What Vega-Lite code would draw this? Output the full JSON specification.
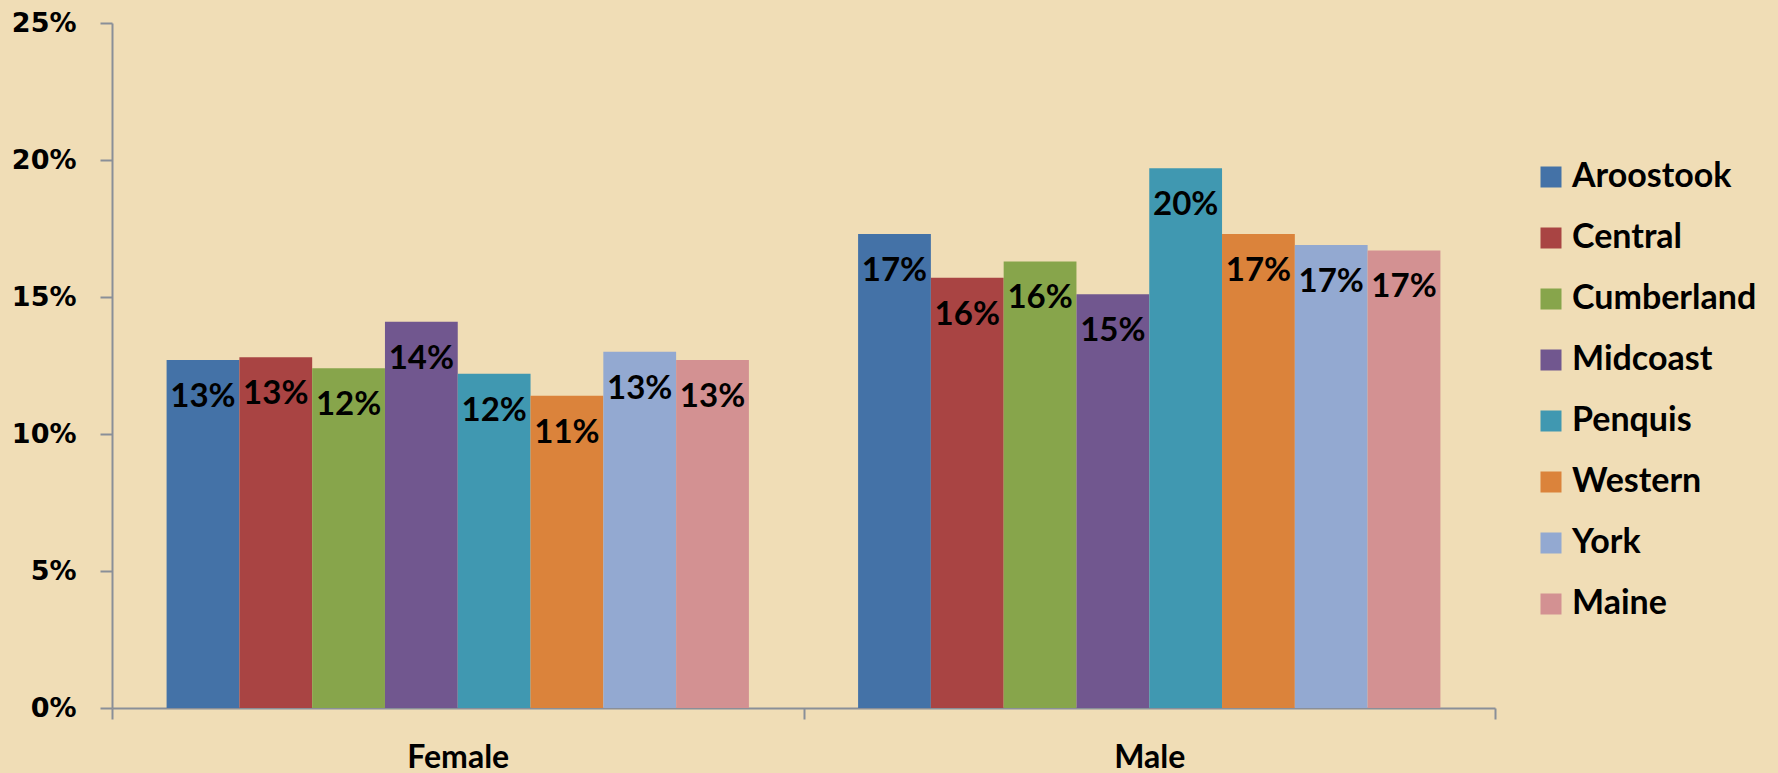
{
  "$schema": "https://vega.github.io/schema/vega-lite/v6.json",
  "width": 1383,
  "height": 685,
  "autosize": {"type": "none"},
  "padding": {"left": 112, "top": 23, "right": 283, "bottom": 65},
  "background": "#f0ddb6",
  "config": {"view": {"stroke": null}},
  "data": {
    "values": [
      {"sex": "Female", "region": "Aroostook", "value": 0.127},
      {"sex": "Female", "region": "Central", "value": 0.128},
      {"sex": "Female", "region": "Cumberland", "value": 0.124},
      {"sex": "Female", "region": "Midcoast", "value": 0.141},
      {"sex": "Female", "region": "Penquis", "value": 0.122},
      {"sex": "Female", "region": "Western", "value": 0.114},
      {"sex": "Female", "region": "York", "value": 0.130},
      {"sex": "Female", "region": "Maine", "value": 0.127},
      {"sex": "Male", "region": "Aroostook", "value": 0.173},
      {"sex": "Male", "region": "Central", "value": 0.157},
      {"sex": "Male", "region": "Cumberland", "value": 0.163},
      {"sex": "Male", "region": "Midcoast", "value": 0.151},
      {"sex": "Male", "region": "Penquis", "value": 0.197},
      {"sex": "Male", "region": "Western", "value": 0.173},
      {"sex": "Male", "region": "York", "value": 0.169},
      {"sex": "Male", "region": "Maine", "value": 0.167}
    ]
  },
  "encoding": {
    "x": {
      "field": "sex",
      "type": "nominal",
      "scale": {"paddingInner": 0, "paddingOuter": 0},
      "axis": {
        "title": null,
        "labelAngle": 0,
        "tickBand": "extent",
        "domainColor": "#8a8f98",
        "domainWidth": 2,
        "tickColor": "#8a8f98",
        "tickWidth": 2,
        "tickSize": 11,
        "labelFont": "Lato",
        "labelFontWeight": "bold",
        "labelFontSize": 32,
        "labelColor": "#000000",
        "labelBaseline": "middle",
        "labelPadding": 38
      }
    },
    "xOffset": {
      "field": "region",
      "type": "nominal",
      "sort": ["Aroostook", "Central", "Cumberland", "Midcoast", "Penquis", "Western", "York", "Maine"],
      "scale": {"paddingOuter": 0.75, "paddingInner": 0}
    },
    "y": {
      "field": "value",
      "type": "quantitative",
      "scale": {"domain": [0, 0.25]},
      "axis": {
        "title": null,
        "format": ".0%",
        "values": [0, 0.05, 0.1, 0.15, 0.2, 0.25],
        "grid": false,
        "domainColor": "#8a8f98",
        "domainWidth": 2,
        "tickColor": "#8a8f98",
        "tickWidth": 2,
        "tickSize": 12,
        "labelFont": "DejaVu Sans",
        "labelFontWeight": "bold",
        "labelFontSize": 27,
        "labelColor": "#000000",
        "labelPadding": 24
      }
    }
  },
  "layer": [
    {
      "mark": {"type": "bar"},
      "encoding": {
        "color": {
          "field": "region",
          "type": "nominal",
          "scale": {
            "domain": ["Aroostook", "Central", "Cumberland", "Midcoast", "Penquis", "Western", "York", "Maine"],
            "range": ["#4472a7", "#a94443", "#87a54b", "#71578f", "#4098b1", "#db833b", "#93a9d1", "#d39192"]
          },
          "legend": {
            "title": null,
            "orient": "none",
            "legendX": 1422,
            "legendY": 137,
            "padding": 0,
            "symbolType": "square",
            "symbolSize": 441,
            "symbolStrokeWidth": 0,
            "symbolOpacity": 1,
            "labelFont": "Lato",
            "labelFontWeight": "bold",
            "labelFontSize": 34,
            "labelColor": "#000000",
            "labelOffset": 4,
            "rowPadding": 27,
            "labelLimit": 400
          }
        }
      }
    },
    {
      "mark": {
        "type": "text",
        "baseline": "middle",
        "dy": 37,
        "font": "Lato",
        "fontWeight": "bold",
        "fontSize": 33,
        "color": "#000000"
      },
      "encoding": {
        "text": {"field": "value", "type": "quantitative", "format": ".0%"}
      }
    }
  ]
}
